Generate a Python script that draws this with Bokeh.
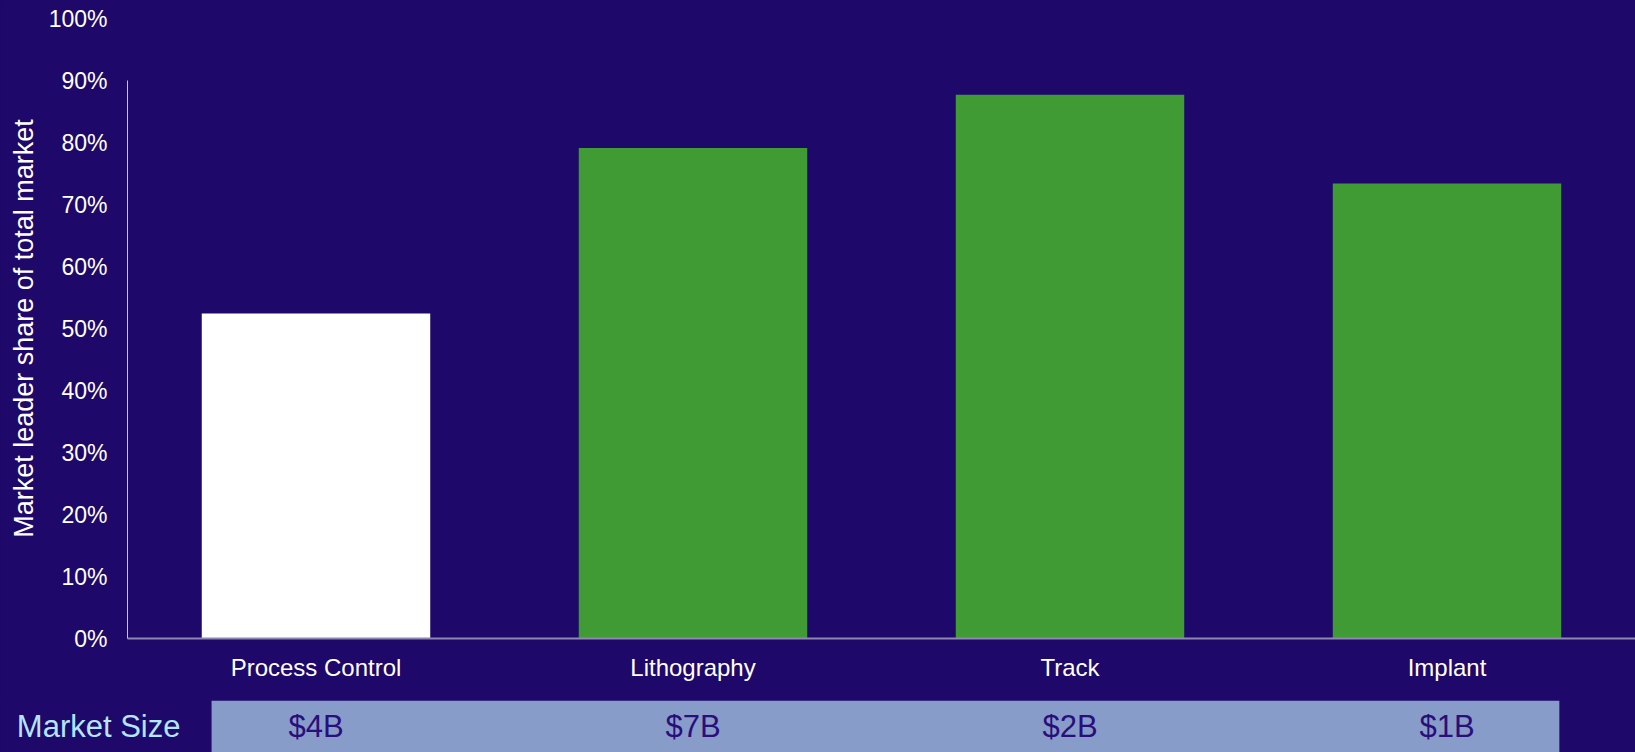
from bokeh.plotting import figure
from bokeh.models import FactorRange, Range1d, LinearAxis, FixedTicker, ColumnDataSource
from bokeh.layouts import column
from bokeh.embed import file_html
from bokeh.resources import INLINE
from bokeh.core.properties import value

# ---- data ----
categories = ["Process Control", "Lithography", "Track", "Implant"]
leader_share = [0.524, 0.791, 0.877, 0.734]
market_size = ["$4B", "$7B", "$2B", "$1B"]
highlight = "Process Control"
y_ticks = [0.0, 0.1, 0.2, 0.3, 0.4, 0.5, 0.6, 0.7, 0.8, 0.9, 1.0]
y_tick_labels = ["0%", "10%", "20%", "30%", "40%", "50%", "60%", "70%", "80%", "90%", "100%"]
y_title = "Market leader share of total market"
row_label = "Market Size"

# ---- styles ----
BG = "#1e0869"
GREEN = "#409b35"
WHITE = "#ffffff"
BOX = "#889cc9"
VALUE_TXT = "#2a0e7c"
ROW_TXT = "#b5e5ff"
FONT = "Liberation Sans"
BAR_W = 0.606
BOX_X0, BOX_X1 = 0.223, 3.798   # extent of the market-size band in category units

bar_colors = [WHITE if c == highlight else GREEN for c in categories]
src = ColumnDataSource(dict(cat=categories, share=leader_share, color=bar_colors))

xr = FactorRange(factors=categories, range_padding=0)

p = figure(width=1635, height=700,
           x_range=xr, y_range=Range1d(0, 1.0),
           output_backend="svg", toolbar_location=None,
           y_axis_location=None,
           min_border_left=127, min_border_right=0,
           min_border_top=18, min_border_bottom=62,
           background_fill_color=BG, border_fill_color=BG,
           outline_line_color=None)

p.vbar(x="cat", top="share", width=BAR_W, color="color", line_color=None, source=src)

# axis line only (stops at 90%)
line_axis = LinearAxis(bounds=(0, 0.9), ticker=FixedTicker(ticks=[]),
                       major_label_text_font_size="0px", major_tick_out=0, major_tick_in=0,
                       minor_tick_out=0, minor_tick_in=0, major_label_standoff=0,
                       axis_line_color="#c9c6dc", axis_line_width=1)
p.add_layout(line_axis, "left")

# tick labels + title
lab_axis = LinearAxis(ticker=FixedTicker(ticks=y_ticks),
                      major_label_overrides={t: l for t, l in zip(y_ticks, y_tick_labels)},
                      axis_line_color=None, major_tick_line_color=None, minor_tick_line_color=None,
                      major_label_text_color=WHITE, major_label_text_font=FONT,
                      major_label_text_font_size="23px", major_label_standoff=14,
                      axis_label=y_title, axis_label_text_color=WHITE,
                      axis_label_text_font=FONT, axis_label_text_font_size="27px",
                      axis_label_text_font_style="normal", axis_label_standoff=7)
p.add_layout(lab_axis, "left")

p.xaxis.axis_line_color = "#8e87b0"
p.xaxis.axis_line_width = 2
p.xaxis.major_tick_line_color = None
p.xaxis.minor_tick_line_color = None
p.xaxis.major_label_text_color = WHITE
p.xaxis.major_label_text_font = FONT
p.xaxis.major_label_text_font_size = "24px"
p.xaxis.major_label_standoff = 9
p.xgrid.visible = False
p.ygrid.visible = False

# ---- market size row ----
q = figure(width=1635, height=52,
           x_range=xr, y_range=FactorRange(factors=[row_label], range_padding=0),
           output_backend="svg", toolbar_location=None,
           x_axis_location=None,
           min_border_left=127, min_border_right=0,
           min_border_top=0, min_border_bottom=0,
           background_fill_color=BG, border_fill_color=BG,
           outline_line_color=None)
q.hbar(y=[row_label], left=[BOX_X0], right=[BOX_X1], height=1.0,
       color=BOX, line_color=None)
q.text(x=categories, y=[row_label] * len(categories), text=market_size,
       text_align="center", text_baseline="middle",
       text_font=value(FONT), text_font_size="31px", text_color=VALUE_TXT)
q.yaxis.axis_line_color = None
q.yaxis.major_tick_line_color = None
q.yaxis.minor_tick_line_color = None
q.yaxis.major_label_text_color = ROW_TXT
q.yaxis.major_label_text_font = FONT
q.yaxis.major_label_text_font_size = "31px"
q.yaxis.major_label_standoff = -59
q.xgrid.visible = False
q.ygrid.visible = False

layout = column(p, q, spacing=0, styles={"background-color": BG})
open("out.html", "w").write(file_html(layout, INLINE))
